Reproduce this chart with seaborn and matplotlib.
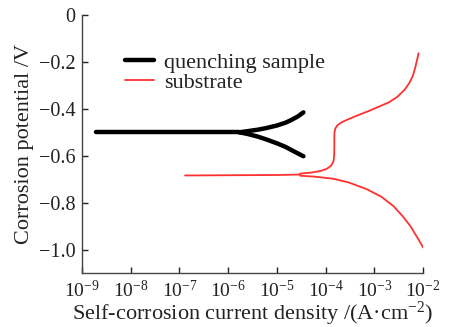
import numpy as np
import pandas as pd
import matplotlib
matplotlib.use("Agg")
import matplotlib.pyplot as plt
import seaborn as sns

# ---- data (current density in A/cm^2, potential in V) ----
q_main_x = [1.9e-9, 1e-8, 1e-7, 1e-6, 1.7e-6]
q_main_y = [-0.500, -0.500, -0.500, -0.500, -0.500]
q_up_x = [1.7e-6, 2.5e-6, 4e-6, 6e-6, 1e-5, 1.5e-5, 2e-5, 2.7e-5, 3.5e-5]
q_up_y = [-0.500, -0.495, -0.489, -0.482, -0.471, -0.459, -0.447, -0.432, -0.415]
q_dn_x = [1.7e-6, 2.5e-6, 4e-6, 6e-6, 1e-5, 1.5e-5, 2e-5, 2.7e-5, 3.5e-5]
q_dn_y = [-0.500, -0.507, -0.518, -0.530, -0.547, -0.562, -0.576, -0.590, -0.602]

s_main_x = [1.3e-7, 1e-6, 1e-5, 3.0e-5]
s_main_y = [-0.684, -0.683, -0.682, -0.680]
s_an_x = [3.0e-5, 5e-5, 7.8e-5, 1.05e-4, 1.3e-4, 1.45e-4, 1.5e-4, 1.51e-4, 1.51e-4,
          1.52e-4, 1.58e-4, 1.75e-4, 2.1e-4, 2.8e-4, 4.5e-4, 7.5e-4, 1.2e-3,
          2.0e-3, 3.0e-3, 4.2e-3, 5.3e-3, 6.2e-3, 6.9e-3, 7.5e-3, 8.1e-3]
s_an_y = [-0.676, -0.672, -0.665, -0.656, -0.642, -0.624, -0.600, -0.560, -0.520,
          -0.500, -0.484, -0.470, -0.458, -0.446, -0.428, -0.410, -0.392,
          -0.372, -0.348, -0.318, -0.288, -0.258, -0.225, -0.193, -0.163]
s_ca_x = [3.0e-5, 6e-5, 1.45e-4, 3e-4, 7.1e-4, 1.4e-3, 2.45e-3, 3.8e-3, 5.5e-3, 7.6e-3, 1.02e-2]
s_ca_y = [-0.685, -0.689, -0.698, -0.714, -0.743, -0.775, -0.814, -0.857, -0.900, -0.948, -0.993]

xticks = [1e-9, 1e-8, 1e-7, 1e-6, 1e-5, 1e-4, 1e-3, 1e-2]
xticklabels = [r"$10^{-9}$", r"$10^{-8}$", r"$10^{-7}$", r"$10^{-6}$",
               r"$10^{-5}$", r"$10^{-4}$", r"$10^{-3}$", r"$10^{-2}$"]
yticks = [0, -0.2, -0.4, -0.6, -0.8, -1.0]
yticklabels = ["0", "\u22120.2", "\u22120.4", "\u22120.6", "\u22120.8", "\u22121.0"]

sns.set_theme(style="ticks")
plt.rcParams["font.family"] = ["Liberation Serif", "DejaVu Serif"]
plt.rcParams["mathtext.fontset"] = "custom"
plt.rcParams["mathtext.rm"] = "Liberation Serif"
plt.rcParams["mathtext.it"] = "Liberation Serif:italic"
plt.rcParams["mathtext.bf"] = "Liberation Serif:bold"

fig = plt.figure(figsize=(4.51, 3.27), dpi=100)
ax = fig.add_axes([0.182, 0.165, 0.756, 0.789])

def branch(x, y):
    return pd.DataFrame({"x": x, "y": y})

kw = dict(x="x", y="y", sort=False, estimator=None, ax=ax)
red = "#ff3030"
sns.lineplot(data=branch(q_main_x, q_main_y), color="black", lw=3.2, label="quenching sample", **kw)
sns.lineplot(data=branch(q_up_x, q_up_y), color="black", lw=3.2, **kw)
sns.lineplot(data=branch(q_dn_x, q_dn_y), color="black", lw=3.2, **kw)
sns.lineplot(data=branch(s_main_x, s_main_y), color=red, lw=1.3, label="substrate", **kw)
sns.lineplot(data=branch(s_an_x, s_an_y), color=red, lw=1.3, **kw)
sns.lineplot(data=branch(s_ca_x, s_ca_y), color=red, lw=1.3, **kw)

ax.set_xscale("log")
ax.set_xlim(1e-9, 1e-2)
ax.set_ylim(-1.1, 0)
ax.set_xticks(xticks)
ax.set_xticklabels(xticklabels)
ax.minorticks_off()
ax.set_yticks(yticks)
ax.set_yticklabels(yticklabels)
ax.tick_params(direction="in", length=4, width=1, labelsize=14.5, colors="#222222")
ax.tick_params(axis="x", pad=5, labelsize=14)
ax.tick_params(axis="y", pad=5)
for s in ["top", "right"]:
    ax.spines[s].set_visible(False)
for s in ["left", "bottom"]:
    ax.spines[s].set_color("#444444")
    ax.spines[s].set_linewidth(1.0)

ax.set_xlabel("Self-corrosion current density /(A\u00b7cm$^{-2}$)", fontsize=16, labelpad=-1, color="#222222")
ax.set_ylabel("Corrosion potential /V", fontsize=16, labelpad=3, color="#222222")

leg = ax.legend(loc="center left", bbox_to_anchor=(0.126, 0.777), frameon=False,
                fontsize=16, handlelength=1.3, handletextpad=0.45, labelspacing=0.0,
                borderaxespad=0, borderpad=0)
for t in leg.get_texts():
    t.set_color("#222222")

fig.savefig("out.png", dpi=100)
